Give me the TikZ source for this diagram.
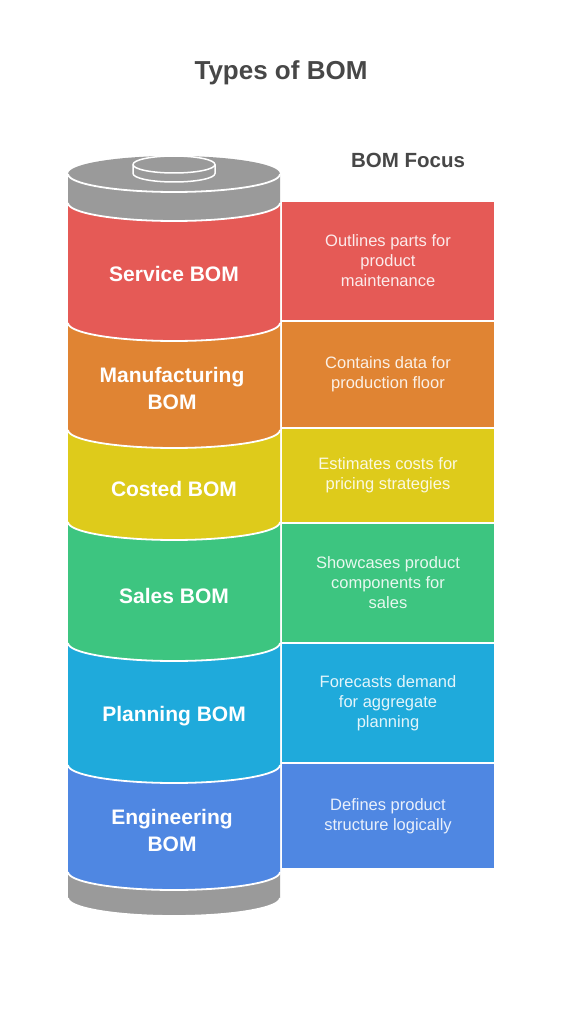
\documentclass[tikz,border=0pt]{standalone}
\usepackage{fontspec}
\setmainfont{Liberation Sans}
\definecolor{cRed}{HTML}{E55A56}
\definecolor{cOrange}{HTML}{E08433}
\definecolor{cYellow}{HTML}{DECB1B}
\definecolor{cGreen}{HTML}{3DC580}
\definecolor{cCyan}{HTML}{1FAADB}
\definecolor{cBlue}{HTML}{4F87E2}
\definecolor{cGray}{HTML}{9A9A9A}
\definecolor{cTitle}{HTML}{474747}
\newcommand{\cylseg}[3]{%
  \fill[#3] (68,#1) arc[start angle=180,end angle=360,x radius=106pt,y radius=18pt]
    -- (280,#2) arc[start angle=0,end angle=-180,x radius=106pt,y radius=18pt] -- cycle;
  \draw[sep] (68,#2) arc[start angle=180,end angle=360,x radius=106pt,y radius=18pt];}
\begin{document}
\begin{tikzpicture}[x=1pt,y=-1pt,
  sep/.style={white,line width=1.8pt},
  boxnode/.style={minimum width=212pt,inner sep=0pt,align=center,text=white,text opacity=0.88,
     font=\fontsize{16.5}{20}\selectfont},
  seglabel/.style={text=white,align=center,font=\bfseries\fontsize{21}{27}\selectfont}]
\useasboundingbox[fill=white] (0,0) rectangle (562,1024);
% title
\node[text=cTitle,font=\bfseries\fontsize{26}{30}\selectfont] (title) at (281,73) {Types of BOM};
\node[text=cTitle,font=\bfseries\fontsize{20.5}{24}\selectfont] (focus) at (408,160) {BOM Focus};
% cylinder body
\cylseg{872}{898}{cGray}
\cylseg{765}{872}{cBlue}
\cylseg{643}{765}{cCyan}
\cylseg{522}{643}{cGreen}
\cylseg{430}{522}{cYellow}
\cylseg{323}{430}{cOrange}
\cylseg{203}{323}{cRed}
% top cap
\fill[cGray] (68,174) -- (68,203) arc[start angle=180,end angle=360,x radius=106pt,y radius=18pt]
   -- (280,174) arc[start angle=0,end angle=180,x radius=106pt,y radius=18pt] -- cycle;
\draw[sep] (68,203) arc[start angle=180,end angle=360,x radius=106pt,y radius=18pt];
\draw[sep] (68,174) arc[start angle=180,end angle=360,x radius=106pt,y radius=18pt];
% small cap
\filldraw[cGray,draw=white,line width=1.5pt] (133,164.5) -- (133,173.5)
   arc[start angle=180,end angle=360,x radius=41pt,y radius=8.5pt]
   -- (215,164.5) arc[start angle=0,end angle=180,x radius=41pt,y radius=8.5pt] -- cycle;
\draw[white,line width=1.5pt] (133,164.5) arc[start angle=180,end angle=360,x radius=41pt,y radius=8.5pt];
% segment labels
\node[seglabel] (s1) at (174,274) {Service BOM};
\node[seglabel] (s2) at (172,388.5) {Manufacturing\\BOM};
\node[seglabel] (s3) at (174,489) {Costed BOM};
\node[seglabel] (s4) at (174,596) {Sales BOM};
\node[seglabel] (s5) at (174,716) {Planning BOM};
\node[seglabel] (s6) at (172,830) {Engineering\\BOM};
% focus boxes
\node[boxnode,fill=cRed,minimum height=118pt] (b1) at (388,261) {Outlines parts for\\product\\maintenance};
\node[boxnode,fill=cOrange,minimum height=105pt] (b2) at (388,374.5) {Contains data for\\production floor};
\node[boxnode,fill=cYellow,minimum height=93pt] (b3) at (388,475.5) {Estimates costs for\\pricing strategies};
\node[boxnode,fill=cGreen,minimum height=118pt] (b4) at (388,583) {Showcases product\\components for\\sales};
\node[boxnode,fill=cCyan,minimum height=118pt] (b5) at (388,703) {Forecasts demand\\for aggregate\\planning};
\node[boxnode,fill=cBlue,minimum height=104pt] (b6) at (388,816) {Defines product\\structure logically};
\end{tikzpicture}
\end{document}
